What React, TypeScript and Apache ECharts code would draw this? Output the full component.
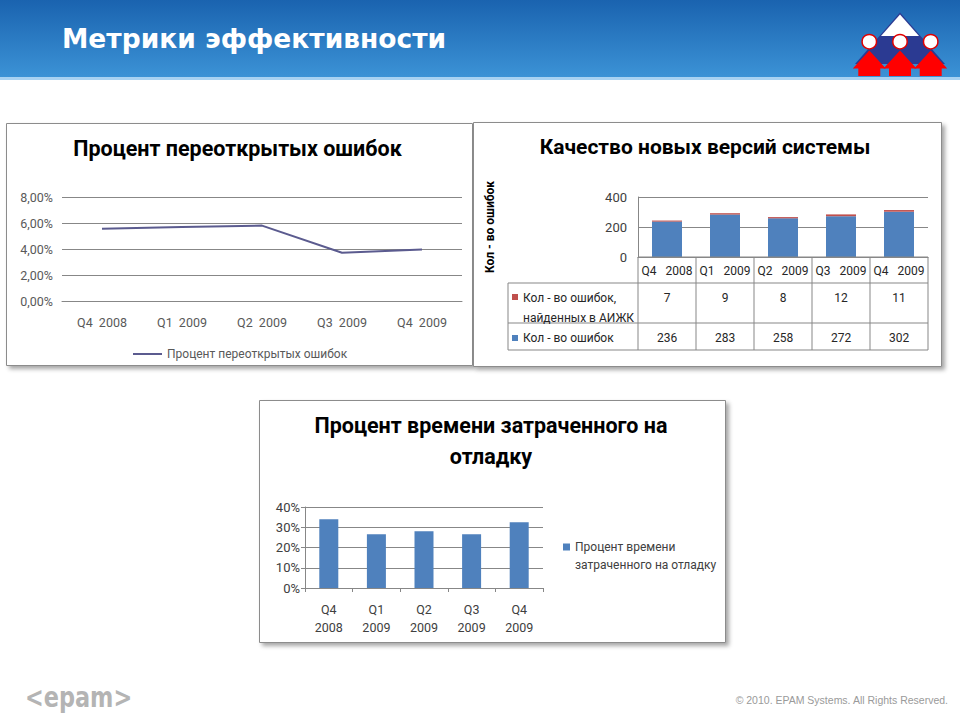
import React, { useEffect, useRef } from "react";
import * as echarts from "echarts";

// ---------- data ----------
const categories = ["Q4  2008", "Q1  2009", "Q2  2009", "Q3  2009", "Q4  2009"];
const tableCategories = ["Q4   2008", "Q1   2009", "Q2   2009", "Q3   2009", "Q4   2009"];
const debugCategories = ["Q4\n2008", "Q1\n2009", "Q2\n2009", "Q3\n2009", "Q4\n2009"];
const reopenedPct = [5.55, 5.7, 5.8, 3.71, 3.96];
const aijkErrors = [7, 9, 8, 12, 11];
const totalErrors = [236, 283, 258, 272, 302];
const debugPct = [34, 26.5, 28, 26.5, 32.5];

const slideTitle = "Метрики эффективности";
const chart1Title = "Процент переоткрытых ошибок";
const chart2Title = "Качество новых версий системы";
const chart3TitleLines = ["Процент времени затраченного на", "отладку"];
const s1Name = "Процент переоткрытых ошибок";
const s2TotalName = "Кол - во ошибок";
const s2AijkName = "Кол - во ошибок, найденных в АИЖК";
const s2AijkLines = ["Кол - во ошибок,", "найденных в АИЖК"];
const s2AxisName = "Кол - во ошибок";
const s3Name = "Процент времени затраченного на отладку";
const s3Lines = ["Процент времени", "затраченного на отладку"];
const copyright = "© 2010. EPAM Systems. All Rights Reserved.";

const FONT = "Roboto, 'Noto Sans', sans-serif";
const GRID_COLOR = "#878787";
const BLUE = "#4F81BD";
const RED = "#C0504D";

// layout
const G1 = { left: 62, top: 197, width: 400, height: 104 };
const G2 = { left: 638, top: 197, width: 290, height: 60 };
const G3 = { left: 305, top: 507, width: 238, height: 81 };

function txt(x: number, y: number, text: string, font: string, fill: string, align = "left", z = 20) {
  return {
    type: "text",
    x,
    y,
    z,
    style: { text, font, fill, textAlign: align, textVerticalAlign: "middle" },
  };
}

function line(x1: number, y1: number, x2: number, y2: number, color = GRID_COLOR) {
  return {
    type: "line",
    z: 5,
    shape: { x1, y1, x2, y2 },
    style: { stroke: color, lineWidth: 1 },
  };
}

function box(x: number, y: number, w: number, h: number) {
  return {
    type: "rect",
    z: -10,
    shape: { x, y, width: w, height: h },
    style: {
      fill: "#FFFFFF",
      stroke: "#8C8C8C",
      lineWidth: 1,
      shadowBlur: 4,
      shadowOffsetX: 3,
      shadowOffsetY: 3,
      shadowColor: "rgba(0,0,0,0.35)",
    },
  };
}

function figure(cx: number) {
  return [
    {
      type: "polygon",
      z: 8,
      shape: {
        points: [
          [cx, 50.5],
          [cx - 16.5, 68.5],
          [cx - 11, 68.5],
          [cx - 11, 76],
          [cx + 11, 76],
          [cx + 11, 68.5],
          [cx + 16.5, 68.5],
        ],
      },
      style: { fill: "#FF0000" },
    },
    {
      type: "circle",
      z: 9,
      shape: { cx, cy: 41.7, r: 7.2 },
      style: { fill: "#FFFFFF", stroke: "#E00000", lineWidth: 1.5 },
    },
  ];
}

function buildTable() {
  const els: any[] = [];
  const colW = G2.width / categories.length;
  const x0 = G2.left;
  const x1 = G2.left + G2.width;
  const yH0 = G2.top + G2.height;
  const yH1 = yH0 + 26;
  const yR1 = yH1 + 40;
  const yR2 = yR1 + 27;
  const xL = 508;
  els.push(line(x0, yH0, x1, yH0));
  els.push(line(x0, yH1, x1, yH1));
  els.push(line(xL, yH1, x0, yH1));
  els.push(line(xL, yR1, x1, yR1));
  els.push(line(xL, yR2, x1, yR2));
  els.push(line(xL, yH1, xL, yR2));
  for (let i = 0; i <= categories.length; i++) {
    const x = x0 + i * colW;
    els.push(line(x, yH0, x, yR2));
  }
  const cellFont = `12px ${FONT}`;
  tableCategories.forEach((c, i) => {
    els.push(txt(x0 + (i + 0.5) * colW, yH0 + 13.5, c, cellFont, "#262626", "center"));
  });
  aijkErrors.forEach((v, i) => {
    els.push(txt(x0 + (i + 0.5) * colW, yH1 + 15, String(v), cellFont, "#262626", "center"));
  });
  totalErrors.forEach((v, i) => {
    els.push(txt(x0 + (i + 0.5) * colW, yR1 + 15, String(v), cellFont, "#262626", "center"));
  });
  els.push({ type: "rect", z: 20, shape: { x: 512, y: yH1 + 11, width: 6, height: 6 }, style: { fill: RED } });
  els.push(txt(523, yH1 + 15, s2AijkLines[0], cellFont, "#262626"));
  els.push(txt(523, yH1 + 34.5, s2AijkLines[1], cellFont, "#262626"));
  els.push({ type: "rect", z: 20, shape: { x: 512, y: yR1 + 12, width: 6, height: 6 }, style: { fill: BLUE } });
  els.push(txt(523, yR1 + 15, s2TotalName, cellFont, "#262626"));
  return els;
}

export default function App() {
  const ref = useRef<HTMLDivElement>(null);

  useEffect(() => {
    if (!ref.current) return;
    const chart = echarts.init(ref.current, undefined, { renderer: "svg" });

    const headerGrad = new echarts.graphic.LinearGradient(0, 0, 0, 1, [
      { offset: 0, color: "#1A63AF" },
      { offset: 1, color: "#3C93D6" },
    ]);

    const graphics: any[] = [
      { type: "rect", z: -20, shape: { x: 0, y: 0, width: 960, height: 78 }, style: { fill: headerGrad } },
      { type: "rect", z: -19, shape: { x: 0, y: 77, width: 960, height: 3 }, style: { fill: "#A8D2F2" } },
      txt(62, 38, slideTitle, `bold 26.5px 'DejaVu Sans', sans-serif`, "#FFFFFF"),
      // logo
      {
        type: "polygon",
        z: 6,
        shape: { points: [[900, 12.5], [855, 64], [945, 64]] },
        style: { fill: "#2B3A92" },
      },
      {
        type: "polygon",
        z: 7,
        shape: { points: [[900, 14.5], [881, 36], [919, 36]] },
        style: { fill: "#FFFFFF" },
      },
      ...figure(869.3),
      ...figure(900),
      ...figure(930.7),
      // boxes
      box(6.5, 123.5, 466, 242),
      box(473.5, 122.5, 468, 244),
      box(259.5, 400.5, 466, 242),
      // titles
      txt(237.5, 148, chart1Title, `bold 21.5px ${FONT}`, "#000000", "center"),
      txt(705, 147, chart2Title, `bold 21px ${FONT}`, "#000000", "center"),
      txt(491, 425, chart3TitleLines[0], `bold 21.5px ${FONT}`, "#000000", "center"),
      txt(491, 456.5, chart3TitleLines[1], `bold 21.5px ${FONT}`, "#000000", "center"),
      ...buildTable(),
      // second line of the third chart's legend
      txt(575, 565, s3Lines[1], `12px ${FONT}`, "#404040"),
      // footer
      {
        ...txt(25, 697, "<epam>", `bold 28px 'DejaVu Sans', sans-serif`, "#B4B4B4"),
        scaleX: 0.8,
      },
      txt(948, 700, copyright, `10.5px 'Liberation Sans Narrow', 'Liberation Sans', sans-serif`, "#9A9A9A", "right"),
    ];

    const axisLabelStyle = { fontFamily: FONT, fontSize: 12.5, color: "#595959" };

    chart.setOption({
      animation: false,
      backgroundColor: "#FFFFFF",
      grid: [
        { ...G1, containLabel: false },
        { ...G2, containLabel: false },
        { ...G3, containLabel: false },
      ],
      xAxis: [
        {
          type: "category",
          gridIndex: 0,
          data: categories,
          boundaryGap: true,
          axisLine: { show: true, lineStyle: { color: GRID_COLOR } },
          axisTick: { show: false },
          axisLabel: { ...axisLabelStyle, margin: 15 },
        },
        {
          type: "category",
          gridIndex: 1,
          data: categories,
          axisLine: { show: true, lineStyle: { color: GRID_COLOR } },
          axisTick: { show: false },
          axisLabel: { show: false },
        },
        {
          type: "category",
          gridIndex: 2,
          data: debugCategories,
          axisLine: { show: true, lineStyle: { color: GRID_COLOR } },
          axisTick: { show: true, length: 4, lineStyle: { color: GRID_COLOR } },
          axisLabel: { ...axisLabelStyle, fontSize: 12.5, color: "#404040", margin: 12, lineHeight: 18 },
        },
      ],
      yAxis: [
        {
          type: "value",
          gridIndex: 0,
          min: 0,
          max: 8,
          interval: 2,
          axisLine: { show: false },
          axisTick: { show: false },
          splitLine: { lineStyle: { color: GRID_COLOR } },
          axisLabel: {
            ...axisLabelStyle,
            margin: 9,
            formatter: (v: number) => v.toFixed(2).replace(".", ",") + "%",
          },
        },
        {
          type: "value",
          gridIndex: 1,
          min: 0,
          max: 400,
          interval: 200,
          name: s2AxisName,
          nameLocation: "middle",
          nameRotate: 90,
          nameGap: 142,
          nameTextStyle: { fontFamily: FONT, fontSize: 12, fontWeight: "bold", color: "#000000" },
          axisLine: { show: true, lineStyle: { color: GRID_COLOR } },
          axisTick: { show: false },
          splitLine: { lineStyle: { color: GRID_COLOR } },
          axisLabel: { ...axisLabelStyle, fontSize: 13, color: "#404040", margin: 11 },
        },
        {
          type: "value",
          gridIndex: 2,
          min: 0,
          max: 40,
          interval: 10,
          axisLine: { show: true, lineStyle: { color: GRID_COLOR } },
          axisTick: { show: true, length: 4, lineStyle: { color: GRID_COLOR } },
          splitLine: { lineStyle: { color: GRID_COLOR } },
          axisLabel: { ...axisLabelStyle, fontSize: 13, color: "#404040", margin: 5, formatter: "{value}%" },
        },
      ],
      legend: [
        {
          data: [s1Name],
          left: 133,
          top: 348,
          padding: 0,
          icon: "rect",
          itemWidth: 29,
          itemHeight: 2,
          itemGap: 0,
          textStyle: { fontFamily: FONT, fontSize: 12, color: "#595959" },
          selectedMode: false,
        },
        {
          data: [s3Name],
          left: 563,
          top: 541,
          padding: 0,
          icon: "rect",
          itemWidth: 7,
          itemHeight: 7,
          formatter: () => s3Lines[0],
          textStyle: { fontFamily: FONT, fontSize: 12, color: "#404040" },
          selectedMode: false,
        },
      ],
      series: [
        {
          name: s1Name,
          type: "line",
          xAxisIndex: 0,
          yAxisIndex: 0,
          data: reopenedPct,
          symbol: "none",
          lineStyle: { color: "#5B5B8F", width: 2 },
          itemStyle: { color: "#5B5B8F" },
        },
        {
          name: s2TotalName,
          type: "bar",
          stack: "errors",
          xAxisIndex: 1,
          yAxisIndex: 1,
          data: totalErrors,
          barWidth: 30,
          itemStyle: { color: BLUE },
        },
        {
          name: s2AijkName,
          type: "bar",
          stack: "errors",
          xAxisIndex: 1,
          yAxisIndex: 1,
          data: aijkErrors,
          barWidth: 30,
          itemStyle: { color: RED },
        },
        {
          name: s3Name,
          type: "bar",
          xAxisIndex: 2,
          yAxisIndex: 2,
          data: debugPct,
          barWidth: 19,
          itemStyle: { color: BLUE },
        },
      ],
      graphic: { elements: graphics },
    });

    return () => chart.dispose();
  }, []);

  return (
    <div
      ref={ref}
      style={{ position: "absolute", left: 0, top: 0, width: 960, height: 720 }}
    />
  );
}
